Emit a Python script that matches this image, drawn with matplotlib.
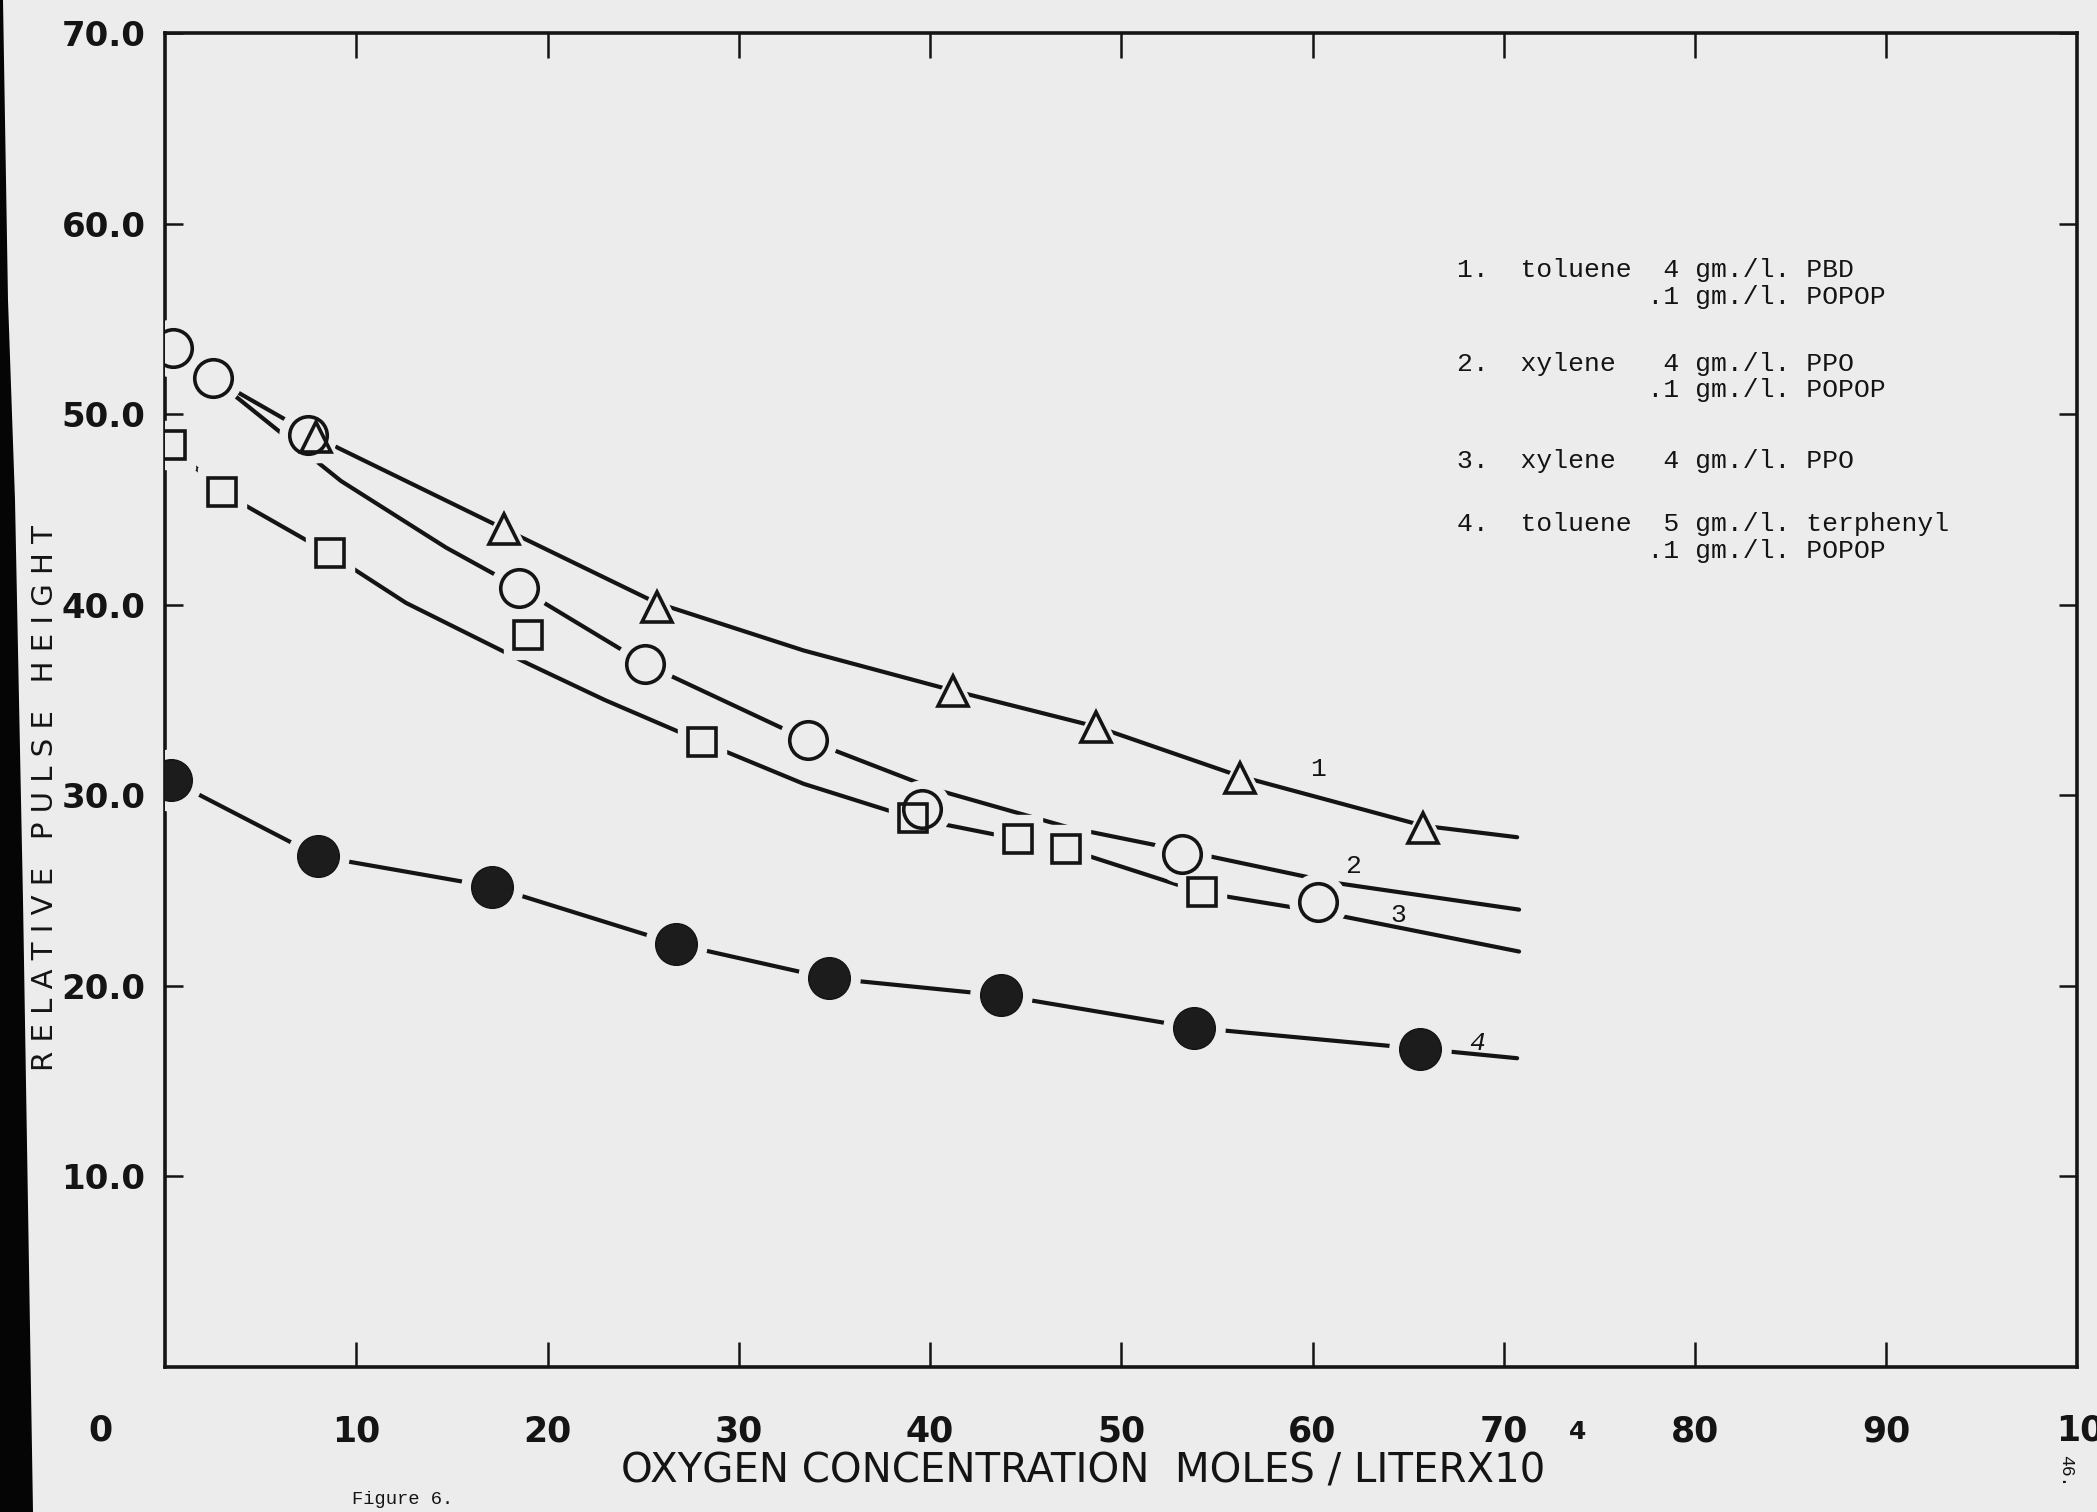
import matplotlib.pyplot as plt
from matplotlib.patches import Polygon

# oxygen concentration (moles/liter x 10^4) vs relative pulse height
# 1. toluene 4 gm/l PBD + .1 gm/l POPOP  (open triangles)
tri_x = [7.9, 17.7, 25.7, 41.2, 48.7, 56.2, 65.8]
tri_y = [48.8, 44.0, 39.9, 35.5, 33.6, 30.9, 28.3]
# 2. xylene 4 gm/l PPO + .1 gm/l POPOP  (open circles)
circ_x = [0.4, 2.5, 7.5, 18.5, 25.1, 33.6, 39.6, 53.2, 60.3]
circ_y = [53.5, 51.9, 48.9, 40.9, 36.9, 32.9, 29.3, 26.9, 24.4]
# 3. xylene 4 gm/l PPO  (open squares)
sq_x = [0.3, 3.0, 8.6, 19.0, 28.1, 39.1, 44.6, 47.1, 54.2]
sq_y = [48.4, 45.9, 42.7, 38.4, 32.8, 28.8, 27.7, 27.2, 24.9]
# 4. toluene 5 gm/l terphenyl + .1 gm/l POPOP  (filled circles)
dot_x = [0.3, 8.0, 17.1, 26.7, 34.7, 43.7, 53.8, 65.6]
dot_y = [30.8, 26.8, 25.2, 22.2, 20.4, 19.5, 17.8, 16.7]

# hand drawn curves
curve1_x = [2.5, 7.9, 17.7, 25.7, 33.4, 41.2, 48.7, 56.2, 65.8, 70.7]
curve1_y = [51.9, 48.8, 44.0, 40.1, 37.6, 35.5, 33.6, 31.0, 28.4, 27.8]
curve2_x = [2.5, 9.2, 14.7, 18.5, 25.1, 33.6, 40.3, 47.3, 53.2, 61.2, 70.8]
curve2_y = [51.9, 46.5, 43.0, 40.9, 36.9, 32.9, 30.3, 28.3, 27.1, 25.4, 24.0]
curve3_x = [0.3, 3.0, 8.6, 12.6, 19.0, 23.0, 28.1, 33.4, 39.1, 44.6, 47.1, 54.2, 60.3, 70.8]
curve3_y = [48.4, 45.9, 42.7, 40.1, 36.9, 35.0, 32.8, 30.6, 28.8, 27.7, 27.2, 24.9, 23.9, 21.8]
curve4_x = [0.3, 8.0, 17.1, 26.7, 34.7, 43.7, 53.8, 65.6, 70.7]
curve4_y = [30.8, 26.8, 25.2, 22.2, 20.4, 19.5, 17.8, 16.7, 16.2]

curve_labels = ['1', '2', '3', '4']
label_x = [60.3, 62.1, 64.5, 68.6]
label_y = [31.4, 26.3, 23.7, 17.0]

legend_lines = [
    '1.  toluene  4 gm./l. PBD',
    '            .1 gm./l. POPOP',
    '2.  xylene   4 gm./l. PPO',
    '            .1 gm./l. POPOP',
    '3.  xylene   4 gm./l. PPO',
    '4.  toluene  5 gm./l. terphenyl',
    '            .1 gm./l. POPOP',
]
legend_rows = [270, 297, 364, 390, 461, 524, 551]  # pixel rows on the sheet

bg = '#ececec'
ink = '#141414'
W, H = 2097, 1512

fig = plt.figure(figsize=(W / 100, H / 100), dpi=100, facecolor=bg)
ax = fig.add_axes([0.0787, 0.096, 0.912, 0.882])
ax.set_facecolor(bg)
ax.set_xlim(0, 100)
ax.set_ylim(0, 70)

# curves
for cx, cy in [(curve1_x, curve1_y), (curve2_x, curve2_y),
               (curve3_x, curve3_y), (curve4_x, curve4_y)]:
    ax.plot(cx, cy, color=ink, lw=3.0, solid_capstyle='round', zorder=2)

# paper coloured halo round each mark so the pen line stops short of it
pts = [(tri_x, tri_y, '^', 22), (circ_x, circ_y, 'o', 27),
       (sq_x, sq_y, 's', 20), (dot_x, dot_y, 'o', 30)]
for px, py, m, ms in pts:
    ax.plot(px, py, ls='none', marker=m, ms=ms + 14, mfc=bg, mec=bg, zorder=3)

ax.plot(tri_x, tri_y, ls='none', marker='^', ms=22, mfc='none', mec=ink, mew=2.6, zorder=4)
ax.plot(circ_x, circ_y, ls='none', marker='o', ms=27, mfc='none', mec=ink, mew=2.6, zorder=4)
ax.plot(sq_x, sq_y, ls='none', marker='s', ms=20, mfc='none', mec=ink, mew=2.6, zorder=4)
ax.plot(dot_x, dot_y, ls='none', marker='o', ms=30, mfc='#1c1c1c', mec=ink, mew=1, zorder=4)

for t, lx, ly in zip(curve_labels, label_x, label_y):
    ax.text(lx, ly, t, fontsize=19, family='Liberation Mono', color=ink,
            ha='center', va='center', style='italic' if t == '4' else 'normal')

# frame and ticks
for s in ax.spines.values():
    s.set_linewidth(2.6)
    s.set_color(ink)
ax.set_xticks(range(10, 100, 10))
ax.set_xticklabels([str(v) for v in range(10, 100, 10)])
ax.set_yticks(range(10, 80, 10))
ax.set_yticklabels([f'{v}.0' for v in range(10, 80, 10)])
ax.tick_params(axis='x', direction='in', length=18, width=1.8, top=True,
               pad=34, labelsize=25, colors=ink)
ax.tick_params(axis='y', direction='in', length=13, width=1.8, right=True,
               pad=14, labelsize=24.5, colors=ink)
for lab in ax.get_xticklabels() + ax.get_yticklabels():
    lab.set_fontweight('bold')

xt = ax.get_xaxis_transform()
ax.text(-3.4, -47 / 1334, '0', transform=xt, ha='center', va='top',
        fontsize=25, fontweight='bold', color=ink, clip_on=False)
ax.text(98.9, -47 / 1334, '100', transform=xt, ha='left', va='top',
        fontsize=25, fontweight='bold', color=ink, clip_on=False)

# axis titles (hand lettered, widely spaced)
fig.text(1083 / W, 1 - 1471 / H, 'OXYGEN CONCENTRATION  MOLES / LITERX10',
         ha='center', va='center', fontsize=29, color=ink)
fig.text(1578 / W, 1 - 1432 / H, '4', ha='center', va='center',
         fontsize=18, fontweight='bold', color=ink)
ylab = '   '.join(' '.join(w) for w in ['RELATIVE', 'PULSE', 'HEIGHT'])
fig.text(45 / W, 1 - 798 / H, ylab, rotation=90,
         ha='center', va='center', fontsize=21, color=ink)

# typed key
for line, row in zip(legend_lines, legend_rows):
    fig.text(1457 / W, 1 - row / H, line, ha='left', va='center',
             fontsize=19, family='Liberation Mono', color=ink)

fig.text(352 / W, 1 - 1500 / H, 'Figure 6.', ha='left', va='center',
         fontsize=13.5, family='Liberation Mono', color=ink)
fig.text(2066 / W, 1 - 1471 / H, '46.', rotation=-90, ha='center', va='center',
         fontsize=13, family='Liberation Mono', color=ink)

# dark scanner edge on the left of the sheet
edge = [(0, 0), (3, 0), (8, 300), (15, 500), (23, 900), (33, H), (0, H)]
fig.add_artist(Polygon([(x / W, 1 - y / H) for x, y in edge], closed=True,
                       transform=fig.transFigure, color='#050505', lw=0))

fig.savefig('out.png', dpi=100, facecolor=bg)
